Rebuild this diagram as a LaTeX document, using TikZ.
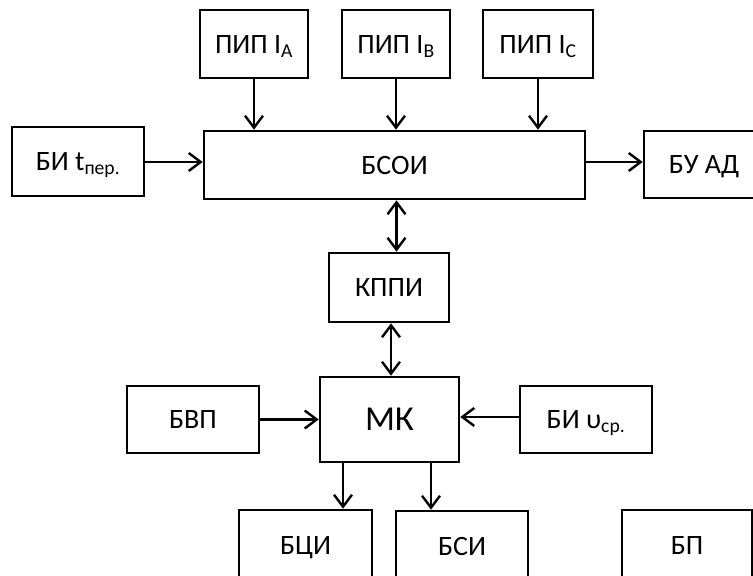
\documentclass[tikz,border=0pt]{standalone}
\usepackage{fontspec}
\setmainfont{Carlito}
\usetikzlibrary{arrows.meta}

\begin{document}
\begin{tikzpicture}[x=1pt, y=-1pt,
  blok/.style={draw, line width=2.6pt, inner sep=0pt, minimum width=132pt, minimum height=68pt,
    text height=18pt, text depth=0pt, font=\fontsize{28}{30}\selectfont},
  strelka/.style={line width=2.4pt, -{Straight Barb[length=12pt, width=18pt, line width=2.4pt]}},
  dvoina/.style={line width=2.4pt, {Straight Barb[length=12pt, width=18pt, line width=2.4pt]}-{Straight Barb[length=12pt, width=18pt, line width=2.4pt]}}]
\useasboundingbox (0,0) rectangle (753,576);
\clip (0,0) rectangle (753,576);

\node[blok, minimum width=108pt] (pipA) at (254, 44) {ПИП I\textsubscript{A}};
\node[blok, minimum width=108pt] (pipB) at (396, 44) {ПИП I\textsubscript{B}};
\node[blok, minimum width=110pt] (pipC) at (538, 44) {ПИП I\textsubscript{C}};

\node[blok, minimum height=69pt] (biT) at (78, 161.5) {БИ t\textsubscript{пер.}};
\node[blok, minimum width=381pt] (bsoi) at (394.5, 165) {БСОИ};
\node[blok, minimum width=120pt, minimum height=67pt] (buad) at (704, 164.5) {БУ АД};

\node[blok, minimum width=120pt, minimum height=69pt] (kppi) at (389, 287.5) {КППИ};

\node[blok, minimum width=139pt, minimum height=85pt, text height=22pt, font=\fontsize{35}{38}\selectfont] (mk) at (389.5, 419.5) {МК};
\node[blok, minimum height=67pt] (bvp) at (193, 419.5) {БВП};
\node[blok, minimum height=67pt] (biv) at (586, 419.5) {БИ υ\textsubscript{ср.}};

\node[blok, minimum width=133pt, minimum height=70pt] (bci) at (305.5, 545) {БЦИ};
\node[blok, minimum height=70pt] (bsi) at (462, 546) {БСИ};
\node[blok, minimum width=130pt, minimum height=70pt] (bp) at (687, 545) {БП};

\draw[strelka] (pipA.south) -- (pipA.south |- bsoi.north);
\draw[strelka] (pipB.south) -- (pipB.south |- bsoi.north);
\draw[strelka] (pipC.south) -- (pipC.south |- bsoi.north);

\draw[strelka] ([yshift=-0.5pt]biT.east) -- ([yshift=-0.5pt]biT.east -| bsoi.west);
\draw[strelka] ([yshift=3pt]bsoi.east) -- ([yshift=3pt]bsoi.east -| buad.west);

\draw[dvoina] ([xshift=2pt]bsoi.south |- kppi.north) -- ([xshift=2pt]bsoi.south);
\draw[dvoina] ([xshift=2pt]kppi.south) -- ([xshift=2pt]kppi.south |- mk.north);

\draw[strelka] (bvp.east) -- (bvp.east -| mk.west);
\draw[strelka] ([yshift=2.5pt]biv.west) -- ([yshift=2.5pt]biv.west -| mk.east);

\draw[strelka] ([xshift=-46.5pt]mk.south) -- ([xshift=-46.5pt]mk.south |- bci.north);
\draw[strelka] ([xshift=41.5pt]mk.south) -- ([xshift=41.5pt]mk.south |- bsi.north);
\end{tikzpicture}
\end{document}
